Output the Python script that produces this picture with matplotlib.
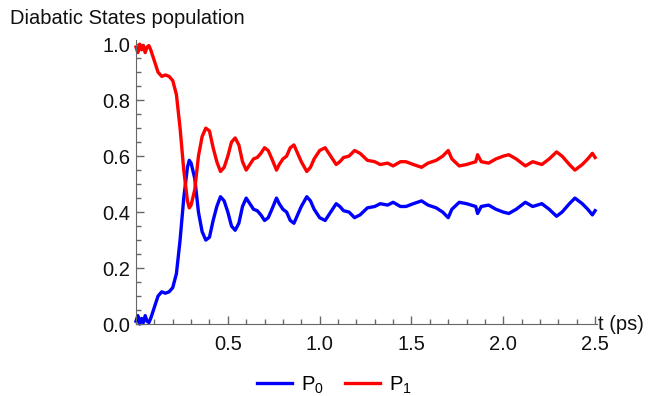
import matplotlib.pyplot as plt
from matplotlib.ticker import MultipleLocator

plt.rcParams["font.family"] = ["Liberation Sans", "DejaVu Sans"]
plt.rcParams["mathtext.fontset"] = "custom"
plt.rcParams["mathtext.rm"] = "Liberation Sans"
plt.rcParams["mathtext.it"] = "Liberation Sans"

t = [0.0, 0.01, 0.02, 0.03, 0.04, 0.05, 0.06, 0.07, 0.08, 0.10, 0.12, 0.14,
     0.16, 0.18, 0.20, 0.22, 0.24, 0.26, 0.28, 0.29, 0.30, 0.32, 0.34, 0.36,
     0.38, 0.40, 0.42, 0.44, 0.46, 0.48, 0.50, 0.52, 0.54, 0.56, 0.58, 0.60,
     0.62, 0.64, 0.66, 0.68, 0.70, 0.72, 0.74, 0.765, 0.78, 0.80, 0.82, 0.84,
     0.86, 0.88, 0.90, 0.93, 0.95, 0.97, 1.00, 1.03, 1.06, 1.09, 1.11, 1.13,
     1.16, 1.19, 1.22, 1.26, 1.30, 1.33, 1.37, 1.40, 1.44, 1.47, 1.51, 1.555,
     1.59, 1.635, 1.67, 1.70, 1.72, 1.76, 1.80, 1.85, 1.86, 1.88, 1.92, 1.96,
     2.00, 2.03, 2.07, 2.12, 2.16, 2.21, 2.25, 2.29, 2.32, 2.36, 2.39, 2.43,
     2.46, 2.485, 2.50]

p0 = [0.01, 0.03, 0.0, 0.02, 0.005, 0.03, 0.01, 0.005, 0.02, 0.06, 0.10, 0.115,
      0.11, 0.115, 0.13, 0.18, 0.30, 0.45, 0.56, 0.585, 0.575, 0.52, 0.40, 0.33,
      0.30, 0.31, 0.37, 0.42, 0.455, 0.44, 0.40, 0.35, 0.335, 0.36, 0.42, 0.45,
      0.43, 0.41, 0.405, 0.39, 0.37, 0.38, 0.41, 0.45, 0.43, 0.41, 0.40, 0.37,
      0.36, 0.39, 0.42, 0.455, 0.44, 0.41, 0.38, 0.37, 0.40, 0.43, 0.42, 0.405,
      0.40, 0.38, 0.39, 0.415, 0.42, 0.43, 0.425, 0.435, 0.42, 0.42, 0.43, 0.44,
      0.425, 0.415, 0.40, 0.38, 0.41, 0.435, 0.43, 0.42, 0.395, 0.42, 0.425, 0.41,
      0.40, 0.395, 0.41, 0.435, 0.42, 0.43, 0.41, 0.385, 0.40, 0.43, 0.45, 0.43,
      0.41, 0.39, 0.405]

p1 = [0.99, 0.97, 1.0, 0.98, 0.995, 0.97, 0.99, 0.995, 0.98, 0.94, 0.90, 0.885,
      0.89, 0.885, 0.87, 0.82, 0.70, 0.55, 0.44, 0.415, 0.425, 0.48, 0.60, 0.67,
      0.70, 0.69, 0.63, 0.58, 0.545, 0.56, 0.60, 0.65, 0.665, 0.64, 0.58, 0.55,
      0.57, 0.59, 0.595, 0.61, 0.63, 0.62, 0.59, 0.55, 0.57, 0.59, 0.60, 0.63,
      0.64, 0.61, 0.58, 0.545, 0.56, 0.59, 0.62, 0.63, 0.60, 0.57, 0.58, 0.595,
      0.60, 0.62, 0.61, 0.585, 0.58, 0.57, 0.575, 0.565, 0.58, 0.58, 0.57, 0.56,
      0.575, 0.585, 0.60, 0.62, 0.59, 0.565, 0.57, 0.58, 0.605, 0.58, 0.575, 0.59,
      0.60, 0.605, 0.59, 0.565, 0.58, 0.57, 0.59, 0.615, 0.60, 0.57, 0.55, 0.57,
      0.59, 0.61, 0.595]

fig = plt.figure(figsize=(6.69, 3.96), dpi=100)
ax = fig.add_axes([0.2033, 0.1818, 0.689, 0.7172])

ax.plot(t, p0, color="#0000ff", lw=2.4, label="P$_0$", clip_on=False)
ax.plot(t, p1, color="#ff0000", lw=2.4, label="P$_1$", clip_on=False)

ax.set_xlim(0, 2.51)
ax.set_ylim(0, 1.015)
ax.xaxis.set_minor_locator(MultipleLocator(0.1))
ax.yaxis.set_minor_locator(MultipleLocator(0.05))
ax.set_xticks([0.5, 1.0, 1.5, 2.0, 2.5])
ax.set_xticklabels(["0.5", "1.0", "1.5", "2.0", "2.5"])
ax.set_yticks([0.0, 0.2, 0.4, 0.6, 0.8, 1.0])
ax.set_yticklabels(["0.0", "0.2", "0.4", "0.6", "0.8", "1.0"])

ax.spines[["top", "right"]].set_visible(False)
ax.spines[["left", "bottom"]].set_color("#666666")
ax.tick_params(which="both", direction="in", colors="#666666", labelcolor="#111111",
               labelsize=14.5, width=1)
ax.tick_params(which="major", length=6)
ax.tick_params(which="minor", length=3.5)
ax.tick_params(axis="x", pad=8)
ax.tick_params(axis="y", pad=4)

fig.text(0.015, 0.953, "Diabatic States population", fontsize=14.5, color="#111111",
         ha="left", va="center")
ax.text(1.003, 0.0, "t (ps)", transform=ax.transAxes, fontsize=14.5, color="#111111",
        ha="left", va="center")

fig.legend(loc="lower center", bbox_to_anchor=(0.5, -0.045), ncol=2, frameon=False,
           fontsize=14.5, handlelength=1.75, columnspacing=1.05, handletextpad=0.45)

fig.savefig("out.png", dpi=100)
